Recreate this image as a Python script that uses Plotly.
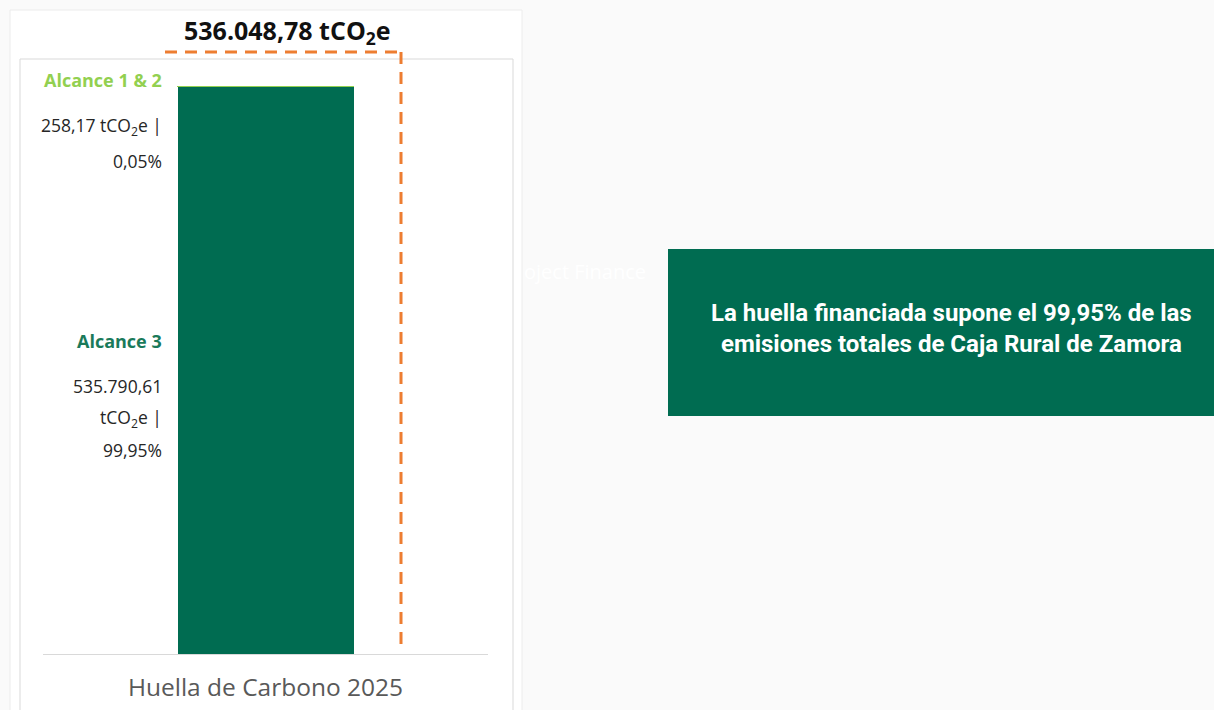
import plotly.graph_objects as go

# ---- data ----
categories = ["Huella de Carbono 2025"]
alcance_3 = [535790.61]
alcance_12 = [258.17]
total_label = "536.048,78 tCO<sub>2</sub>e"
label_12 = ["258,17 tCO<sub>2</sub>e |", "0,05%"]
label_3 = ["535.790,61", "tCO<sub>2</sub>e |", "99,95%"]
box_text = "La huella financiada supone el 99,95% de las<br>emisiones totales de Caja Rural de Zamora"

total = alcance_3[0] + alcance_12[0]

W, H = 1214, 710
L, R, T, B = 43, 488, 20, 654
def px(x):
    return (x - L) / (R - L)
def py(y):
    return (B - y) / (B - T)

DARK = "#006C51"
LIGHT = "#92D050"
ORANGE = "#ED7D31"

fig = go.Figure()
fig.add_trace(go.Bar(x=categories, y=alcance_3, name="Alcance 3",
                     marker=dict(color=DARK, line=dict(width=0)), width=0.3955))
fig.add_trace(go.Bar(x=categories, y=alcance_12, name="Alcance 1 & 2",
                     marker=dict(color=LIGHT, line=dict(color=LIGHT, width=1)), width=0.3955))

shapes = [
    # card
    dict(type="rect", xref="paper", yref="paper", x0=px(10), x1=px(522), y0=py(730), y1=py(10),
         fillcolor="white", line=dict(color="#ececec", width=1), layer="below"),
    # inner border
    dict(type="rect", xref="paper", yref="paper", x0=px(20), x1=px(513), y0=py(730), y1=py(59),
         fillcolor="white", line=dict(color="#d9d9d9", width=1), layer="below"),
    # dashed bracket
    dict(type="line", xref="paper", yref="paper", x0=px(165), x1=px(401), y0=py(52), y1=py(52),
         line=dict(color=ORANGE, width=3, dash="12px,8px")),
    dict(type="line", xref="paper", yref="paper", x0=px(401), x1=px(401), y0=py(52), y1=py(646),
         line=dict(color=ORANGE, width=3, dash="12px,8px")),
    # right box
    dict(type="rect", xref="paper", yref="paper", x0=px(668), x1=px(1214), y0=py(416), y1=py(249),
         fillcolor=DARK, line=dict(width=0)),
]

FONT = "Open Sans, Arial, sans-serif"
ann = []
ann.append(dict(xref="paper", yref="paper", x=px(287), y=py(32), text="<b>" + total_label + "</b>",
                showarrow=False, font=dict(family=FONT, size=25, color="#111111"),
                xanchor="center", yanchor="middle"))
def left_label(text, y, color, bold=False, size=17.5):
    t = "<b>" + text + "</b>" if bold else text
    ann.append(dict(xref="paper", yref="paper", x=px(164), y=py(y), text=t, showarrow=False,
                    font=dict(family=FONT, size=size, color=color), xanchor="right", yanchor="middle"))
left_label("Alcance 1 &amp; 2", 80, LIGHT, bold=True, size=18)
for i, t in enumerate(label_12):
    left_label(t, 127 + i * 34, "#262626")
left_label("Alcance 3", 341, "#1a7a5a", bold=True, size=18)
for i, t in enumerate(label_3):
    left_label(t, 386 + i * 32, "#262626")

ann.append(dict(xref="paper", yref="paper", x=px(522), y=py(271), text="oject Finance", showarrow=False,
                font=dict(family=FONT, size=20, color="#ffffff"), xanchor="left", yanchor="middle"))
ann.append(dict(xref="paper", yref="paper", x=px(952), y=py(328), text="<b>" + box_text + "</b>",
                showarrow=False, font=dict(family="Roboto, Arial, sans-serif", size=24, color="white"),
                xanchor="center", yanchor="middle", align="center"))

fig.update_layout(
    width=W, height=H,
    margin=dict(l=L, r=W - R, t=T, b=H - B, pad=0),
    paper_bgcolor="#fafafa", plot_bgcolor="rgba(0,0,0,0)",
    barmode="stack", showlegend=False,
    shapes=shapes, annotations=ann,
    xaxis=dict(range=[-0.5, 0.5], showline=True, linecolor="#d9d9d9", linewidth=1,
               showgrid=False, zeroline=False, ticks="", ticklabelstandoff=12, automargin=False,
               tickfont=dict(family=FONT, size=24.5, color="#595959"), fixedrange=True),
    yaxis=dict(range=[0, total * (B - T) / (B - 86)], visible=False, showgrid=False,
               zeroline=False, automargin=False),
)
fig.write_html("out.html")
